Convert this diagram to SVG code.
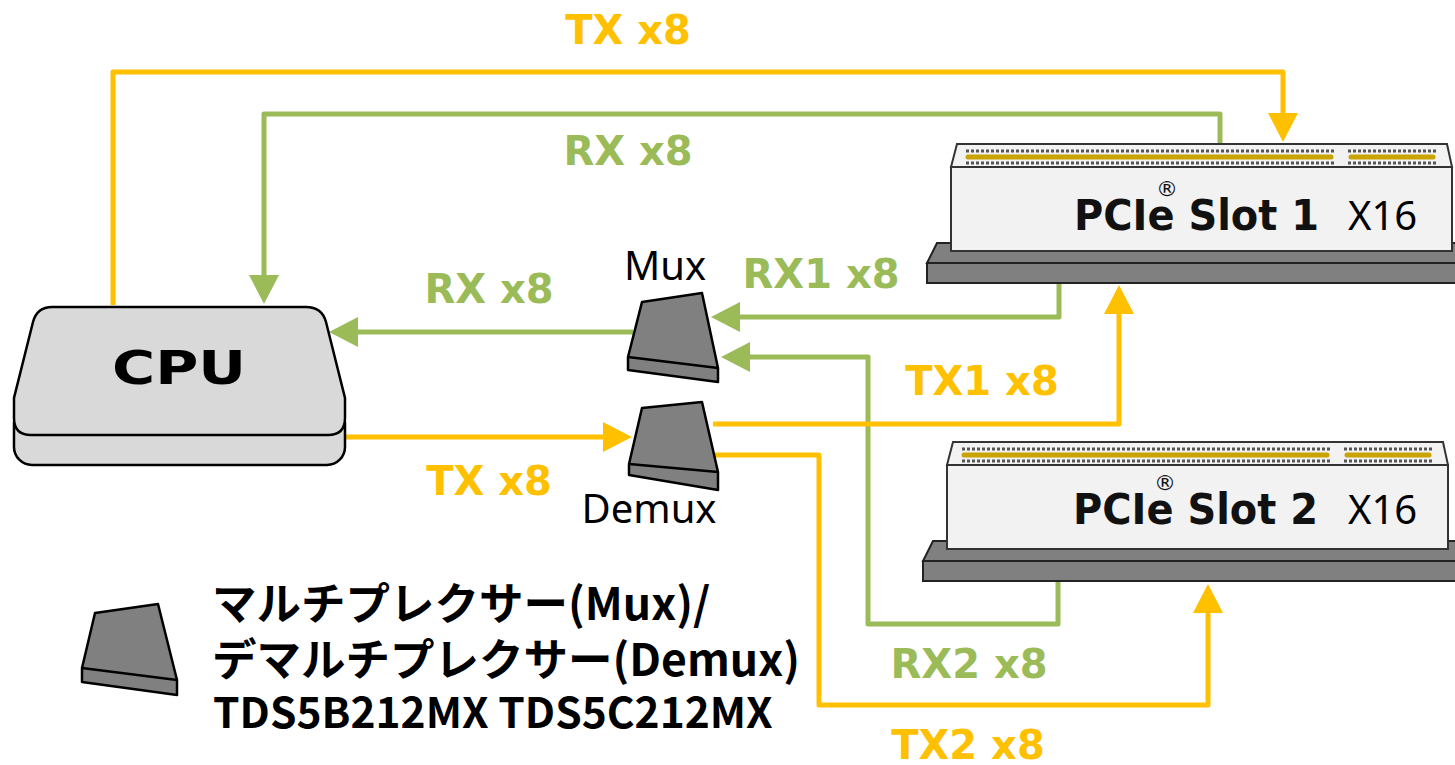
<svg xmlns="http://www.w3.org/2000/svg" width="1455" height="765" viewBox="0 0 1455 765">
  <style>
    .lbl { font-family: "DejaVu Sans", Verdana, sans-serif; font-weight: bold; font-size: 40px; text-anchor: middle; }
    .tx { fill: #FFC000; }
    .rx { fill: #9BBB59; }
    .wire { fill: none; stroke-width: 5; stroke-linejoin: round; }
    .wtx { stroke: #FFC000; }
    .wrx { stroke: #9BBB59; }
    .chip { fill: #808080; stroke: #000; stroke-width: 2.5; stroke-linejoin: round; }
    .plain { font-family: "Noto Sans", "Open Sans", sans-serif; font-size: 40px; fill: #000; }
    .slotname { font-family: "DejaVu Sans", Verdana, sans-serif; font-weight: bold; font-size: 43px; fill: #111; }
    .reg { font-family: "DejaVu Sans", sans-serif; font-size: 22px; text-anchor: middle; fill: #111; }
    .pins { stroke: #555; stroke-width: 3; stroke-dasharray: 3 2; fill: none; }
    .gold { stroke: #C9A300; stroke-width: 5; stroke-linecap: round; fill: none; }
    .legend { font-family: "Noto Sans CJK JP", "Noto Sans", sans-serif; font-weight: bold; font-size: 44.5px; fill: #000; }
    .legend.part { font-size: 42.5px; }
  </style>
  <defs>
    <marker id="arrTx" viewBox="0 0 29 30" refX="1" refY="15" markerWidth="29" markerHeight="30" markerUnits="userSpaceOnUse" orient="auto">
      <path d="M0,0 L29,15 L0,30 Z" fill="#FFC000"/>
    </marker>
    <marker id="arrRx" viewBox="0 0 29 30" refX="1" refY="15" markerWidth="29" markerHeight="30" markerUnits="userSpaceOnUse" orient="auto">
      <path d="M0,0 L29,15 L0,30 Z" fill="#9BBB59"/>
    </marker>
    <g id="slotShape">
      <!-- base plate -->
      <polygon points="937,243 1460,243 1460,263 927,263" fill="#808080" stroke="#222" stroke-width="2"/>
      <rect x="927" y="263" width="533" height="20" fill="#808080" stroke="#222" stroke-width="2"/>
      <!-- slot body -->
      <rect x="951" y="167" width="501" height="84" fill="#F2F2F2" stroke="#333" stroke-width="2"/>
      <polygon points="957,144 1447,144 1452,167 951,167" fill="#F2F2F2" stroke="#333" stroke-width="2"/>
      <!-- contact rows -->
      <line class="pins" x1="966" y1="151" x2="1334" y2="151"/>
      <line class="pins" x1="966" y1="163" x2="1334" y2="163"/>
      <line class="pins" x1="1348" y1="151" x2="1436" y2="151"/>
      <line class="pins" x1="1348" y1="163" x2="1436" y2="163"/>
      <line class="gold" x1="968" y1="157" x2="1331" y2="157"/>
      <line class="gold" x1="1351" y1="157" x2="1433" y2="157"/>
    </g>
  </defs>

  <!-- connectors -->
  <g id="connectors">
    <path class="wire wtx" d="M113,305 V72 H1283 V114" marker-end="url(#arrTx)"/>
    <path class="wire wrx" d="M1220,145 V114 H264 V276" marker-end="url(#arrRx)"/>
    <path class="wire wrx" d="M633,332 H357" marker-end="url(#arrRx)"/>
    <path class="wire wtx" d="M345,437 H604" marker-end="url(#arrTx)"/>
    <path class="wire wrx" d="M1059,283 V317 H739" marker-end="url(#arrRx)"/>
    <path class="wire wrx" d="M1058,582 V624 H868 V357 H749" marker-end="url(#arrRx)"/>
    <path class="wire wtx" d="M713,424 H1119 V313" marker-end="url(#arrTx)"/>
    <path class="wire wtx" d="M713,455 H819 V705 H1208 V612" marker-end="url(#arrTx)"/>
  </g>

  <!-- link labels -->
  <g id="labels">
    <text class="lbl tx" x="628" y="44">TX x8</text>
    <text class="lbl rx" x="628" y="165">RX x8</text>
    <text class="lbl rx" x="489" y="303">RX x8</text>
    <text class="lbl rx" x="821" y="288">RX1 x8</text>
    <text class="lbl tx" x="982" y="395">TX1 x8</text>
    <text class="lbl tx" x="489" y="495">TX x8</text>
    <text class="lbl rx" x="969" y="678">RX2 x8</text>
    <text class="lbl tx" x="968" y="759">TX2 x8</text>
  </g>

  <!-- CPU -->
  <g id="cpu">
    <rect x="14" y="405" width="331" height="60" rx="18" fill="#D9D9D9" stroke="#000" stroke-width="2.5"/>
    <path d="M52,307 L306,307 Q322,307 326,322 L345,398 L345,418 Q345,435 328,435 L31,435 Q14,435 14,418 L14,398 L33,322 Q37,307 52,307 Z" fill="#D9D9D9" stroke="#000" stroke-width="2.5"/>
    <text x="179" y="384" font-family="DejaVu Sans, Verdana, sans-serif" font-weight="bold" font-size="46" text-anchor="middle" textLength="134" lengthAdjust="spacingAndGlyphs" fill="#000">CPU</text>
  </g>

  <!-- Mux -->
  <g id="mux">
    <path class="chip" d="M642,302 L702,293 L718,368 L718,382 L628,370 L628,357 Z"/>
    <path class="chip" d="M628,357 L718,368" fill="none"/>
    <text class="plain" x="665" y="280" text-anchor="middle">Mux</text>
  </g>

  <!-- Demux -->
  <g id="demux">
    <path class="chip" d="M642,408 L702,402 L718,472 L718,490 L629,475 L629,464 Z"/>
    <path class="chip" d="M629,464 L718,472" fill="none"/>
    <text class="plain" x="649" y="523" text-anchor="middle">Demux</text>
  </g>

  <!-- PCIe slot 1 -->
  <g id="slot1">
    <use href="#slotShape"/>
    <text class="slotname" x="1074" y="230" textLength="245" lengthAdjust="spacingAndGlyphs">PCIe Slot 1</text>
    <text class="reg" x="1167" y="196">®</text>
    <text class="plain" x="1348" y="230">X16</text>
  </g>

  <!-- PCIe slot 2 -->
  <g id="slot2">
    <use href="#slotShape" transform="translate(-4,298)"/>
    <text class="slotname" x="1073" y="524" textLength="245" lengthAdjust="spacingAndGlyphs">PCIe Slot 2</text>
    <text class="reg" x="1165" y="490">®</text>
    <text class="plain" x="1348" y="524">X16</text>
  </g>

  <!-- legend -->
  <g id="legend">
    <path class="chip" d="M95,613 L158,604 L177,680 L177,695 L82,682 L82,668 Z"/>
    <path class="chip" d="M82,668 L177,680" fill="none"/>
    <text class="legend" x="212" y="620">マルチプレクサー(Mux)/</text>
    <text class="legend" x="212" y="676">デマルチプレクサー(Demux)</text>
    <text class="legend part" x="213" y="728">TDS5B212MX TDS5C212MX</text>
  </g>
</svg>
